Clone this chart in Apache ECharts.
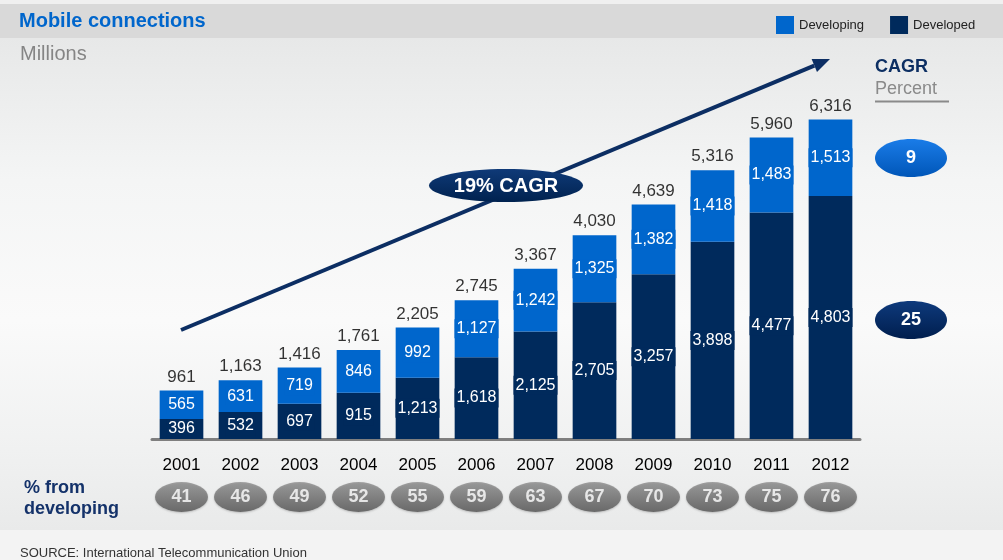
<!DOCTYPE html>
<html lang="en">
<head>
    <meta charset="UTF-8">
    <title>Mobile connections</title>
    <script type="text/javascript" src="https://cdn.jsdelivr.net/npm/echarts@6/dist/echarts.min.js"></script>
    <style>
        body { margin: 0; }
        #ec {
            width: 1003px; height: 560px;
            background: linear-gradient(to bottom, #f0f0f0 0, #f0f0f0 4px, #d9d9d9 4px, #d9d9d9 38px,
                #e7e8e8 38px, #f4f5f5 180px, #fafafa 320px, #f0f1f1 450px, #e9eaea 530px, #f3f3f3 530px, #f3f3f3 560px);
        }
    </style>
</head>
<body>
<div id="ec"></div>
<script>
    var years = ['2001', '2002', '2003', '2004', '2005', '2006', '2007', '2008', '2009', '2010', '2011', '2012'];
    var developing = [565, 631, 719, 846, 992, 1127, 1242, 1325, 1382, 1418, 1483, 1513];
    var developed = [396, 532, 697, 915, 1213, 1618, 2125, 2705, 3257, 3898, 4477, 4803];
    var pctFromDeveloping = [41, 46, 49, 52, 55, 59, 63, 67, 70, 73, 75, 76];
    var cagrDeveloping = 9;
    var cagrDeveloped = 25;
    var cagrTotal = '19% CAGR';

    var FONT = '"Liberation Sans", Arial, Helvetica, sans-serif';
    var LIGHT = '#0066cc';
    var DARK = '#002a5c';

    function fmt(v) {
        return String(v).replace(/\B(?=(\d{3})+(?!\d))/g, ',');
    }

    var totals = [];
    for (var i = 0; i < years.length; i++) {
        totals.push(developing[i] + developed[i]);
    }
    var pills = [];
    for (var j = 0; j < years.length; j++) {
        pills.push([years[j], 0, pctFromDeveloping[j]]);
    }

    function grad(c1, c2) {
        return new echarts.graphic.LinearGradient(0, 0, 0, 1, [{offset: 0, color: c1}, {offset: 1, color: c2}]);
    }

    // arrow geometry (annotation)
    var ax0 = 181, ay0 = 330, ax1 = 830, ay1 = 59;
    var len = Math.sqrt((ax1 - ax0) * (ax1 - ax0) + (ay1 - ay0) * (ay1 - ay0));
    var ux = (ax1 - ax0) / len, uy = (ay1 - ay0) / len;
    var bx = ax1 - 17 * ux, by = ay1 - 17 * uy;

    var myChart = echarts.init(document.getElementById('ec'));
    myChart.setOption({
        animation: false,
        textStyle: {fontFamily: FONT},
        title: [
            {text: 'Mobile connections', left: 19, top: 11, padding: 0,
                textStyle: {color: LIGHT, fontSize: 20, fontWeight: 'bold', fontFamily: FONT}},
            {text: 'Millions', left: 20, top: 44, padding: 0,
                textStyle: {color: '#858585', fontSize: 20, fontWeight: 'normal', fontFamily: FONT}}
        ],
        legend: {
            data: ['Developing', 'Developed'],
            left: 776, top: 16, padding: 0,
            itemWidth: 18, itemHeight: 18, itemGap: 26,
            icon: 'rect',
            textStyle: {color: '#222', fontSize: 13, fontFamily: FONT}
        },
        grid: [
            {left: 152, right: 143, top: 85, bottom: 121},
            {left: 152, right: 143, top: 482, height: 30}
        ],
        xAxis: [
            {
                type: 'category', data: years, gridIndex: 0,
                axisLine: {lineStyle: {color: '#7f7f7f', width: 3}},
                axisTick: {show: false},
                axisLabel: {color: '#000', fontSize: 17, margin: 18, fontFamily: FONT}
            },
            {type: 'category', data: years, gridIndex: 1, show: false}
        ],
        yAxis: [
            {type: 'value', min: 0, max: 7000, gridIndex: 0, show: false, splitLine: {show: false}},
            {type: 'value', min: -1, max: 1, gridIndex: 1, show: false, splitLine: {show: false}}
        ],
        series: [
            {
                name: 'Developed', type: 'bar', stack: 'tot', data: developed,
                barCategoryGap: '26%',
                itemStyle: {color: DARK},
                label: {
                    show: true, position: 'inside', color: '#fff', fontSize: 16, fontFamily: FONT,
                    backgroundColor: DARK, padding: [2, 2, 1, 2],
                    formatter: function (p) { return fmt(p.value); }
                }
            },
            {
                name: 'Developing', type: 'bar', stack: 'tot', data: developing,
                itemStyle: {color: LIGHT},
                label: {
                    show: true, position: 'inside', color: '#fff', fontSize: 16, fontFamily: FONT,
                    backgroundColor: LIGHT, padding: [2, 2, 1, 2],
                    formatter: function (p) { return fmt(p.value); }
                }
            },
            {
                name: 'Total', type: 'scatter', data: totals, symbolSize: 0,
                itemStyle: {color: '#000'},
                label: {
                    show: true, position: 'top', distance: 5, color: '#000', fontSize: 17, fontFamily: FONT,
                    formatter: function (p) { return fmt(p.value); }
                },
                z: 5
            },
            {
                name: 'pct', type: 'scatter', xAxisIndex: 1, yAxisIndex: 1,
                data: pills, encode: {x: 0, y: 1},
                symbol: 'circle', symbolSize: [53, 30],
                itemStyle: {
                    color: grad('#8e8e8e', '#545454'),
                    shadowColor: 'rgba(0,0,0,0.25)', shadowBlur: 2, shadowOffsetY: 1
                },
                label: {
                    show: true, position: 'inside', color: '#fff', fontSize: 18, fontWeight: 'bold', fontFamily: FONT,
                    formatter: function (p) { return p.value[2]; }
                }
            }
        ],
        graphic: [
            // growth arrow
            {type: 'line', z: 1, shape: {x1: ax0, y1: ay0, x2: bx, y2: by},
                style: {stroke: '#0c2e63', lineWidth: 4}},
            {type: 'polygon', z: 1, shape: {points: [[ax1, ay1], [bx + 7 * uy, by - 7 * ux], [bx - 7 * uy, by + 7 * ux]]},
                style: {fill: '#0c2e63'}},
            {type: 'ellipse', z: 2, shape: {cx: 506, cy: 185.5, rx: 77, ry: 16.5},
                style: {fill: grad('#0f3a78', '#00224f')}},
            {type: 'text', z: 3, x: 506, y: 186,
                style: {text: cagrTotal, fill: '#fff', font: 'bold 20px ' + FONT, textAlign: 'center', textVerticalAlign: 'middle'}},
            // CAGR column
            {type: 'text', x: 875, y: 67,
                style: {text: 'CAGR', fill: '#0d2f63', font: 'bold 18px ' + FONT, textVerticalAlign: 'middle'}},
            {type: 'text', x: 875, y: 89,
                style: {text: 'Percent', fill: '#8a8a8a', font: '18px ' + FONT, textVerticalAlign: 'middle'}},
            {type: 'line', shape: {x1: 875, y1: 101.5, x2: 949, y2: 101.5},
                style: {stroke: '#8a8a8a', lineWidth: 2}},
            {type: 'ellipse', shape: {cx: 911, cy: 158, rx: 36, ry: 19},
                style: {fill: grad('#1a7ce8', '#0056b8')}},
            {type: 'text', x: 911, y: 158,
                style: {text: String(cagrDeveloping), fill: '#fff', font: 'bold 18px ' + FONT, textAlign: 'center', textVerticalAlign: 'middle'}},
            {type: 'ellipse', shape: {cx: 911, cy: 320, rx: 36, ry: 19},
                style: {fill: grad('#0e3a7c', '#001e4e')}},
            {type: 'text', x: 911, y: 320,
                style: {text: String(cagrDeveloped), fill: '#fff', font: 'bold 18px ' + FONT, textAlign: 'center', textVerticalAlign: 'middle'}},
            // bottom texts
            {type: 'text', x: 24, y: 488,
                style: {text: '% from', fill: '#14326a', font: 'bold 18px ' + FONT, textVerticalAlign: 'middle'}},
            {type: 'text', x: 24, y: 509,
                style: {text: 'developing', fill: '#14326a', font: 'bold 18px ' + FONT, textVerticalAlign: 'middle'}},
            {type: 'text', x: 20, y: 553,
                style: {text: 'SOURCE: International Telecommunication Union', fill: '#333', font: '13px ' + FONT, textVerticalAlign: 'middle'}}
        ]
    });
</script>
</body>
</html>
